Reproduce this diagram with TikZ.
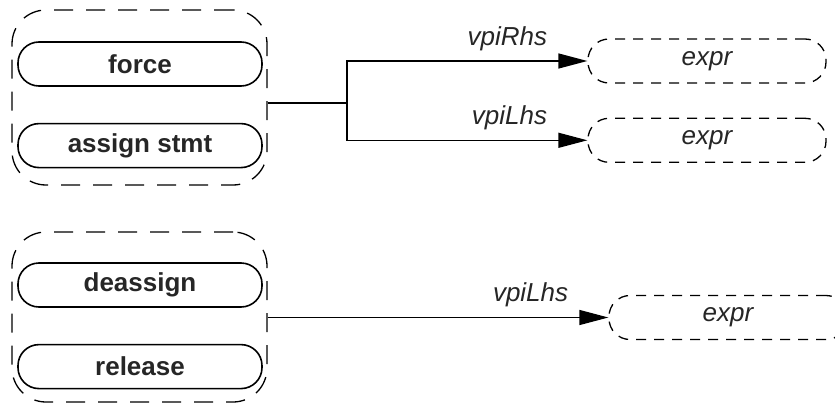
\documentclass[tikz,border=0pt]{standalone}
\usepackage{fontspec}
\setmainfont{Liberation Sans}
\usetikzlibrary{positioning, arrows.meta, calc}

\begin{document}
\begin{tikzpicture}[
        x=1pt, y=-1pt,
        every node/.style={font=\fontsize{26}{30}\selectfont, text=black!85},
        obj/.style={draw, line width=1.6pt, rounded corners=21pt,
                    minimum width=244pt, minimum height=44pt,
                    font=\fontsize{26}{30}\selectfont\bfseries},
        group/.style={draw, line width=1.3pt, dash pattern=on 19pt off 13pt,
                      rounded corners=34pt, minimum width=255pt},
        expr/.style={draw, line width=1.3pt, dash pattern=on 10pt off 8pt,
                     rounded corners=21pt, minimum width=238pt, minimum height=44pt,
                     font=\fontsize{26}{30}\selectfont\itshape},
        lbl/.style={inner sep=0pt, font=\fontsize{26}{30}\selectfont\itshape},
        line/.style={line width=1.3pt},
        arrow/.style={line, -{Triangle[length=29pt, width=15pt]}}
    ]
    \useasboundingbox (0,0) rectangle (835,404);

    % --- Groups ---
    \node[group, minimum height=175pt] (grp1) at (139.5,97.5) {};
    \node[group, minimum height=170pt] (grp2) at (139.5,317) {};

    % --- Objects ---
    \node[obj] (force) at (140,64) {force};
    \node[obj, below=36pt of force] (assign) {assign stmt};
    \node[obj] (deassign) at (140,285) {deassign};
    \node[obj, below=36pt of deassign] (release) {release};

    % --- Targets ---
    \node[expr] (expr1) at (707,61) {expr};
    \node[expr, below=34pt of expr1] (expr2) {expr};
    \node[expr] (expr3) at (728,317.5) {expr};

    % --- Arrows ---
    \coordinate (fork) at (347,103);
    \draw[line] (grp1.east |- fork) -- (fork);
    \draw[arrow] (fork) |- (expr1.west);
    \draw[arrow] (fork) |- (expr2.west);
    \draw[arrow] (grp2.east |- expr3.west) -- (expr3.west);

    % --- Labels ---
    \node[lbl, above left=10pt and 40pt of expr1.west] (rhs) {vpiRhs};
    \node[lbl, above left=10pt and 40pt of expr2.west] (lhs1) {vpiLhs};
    \node[lbl, above left=10pt and 40pt of expr3.west] (lhs2) {vpiLhs};

\end{tikzpicture}
\end{document}
